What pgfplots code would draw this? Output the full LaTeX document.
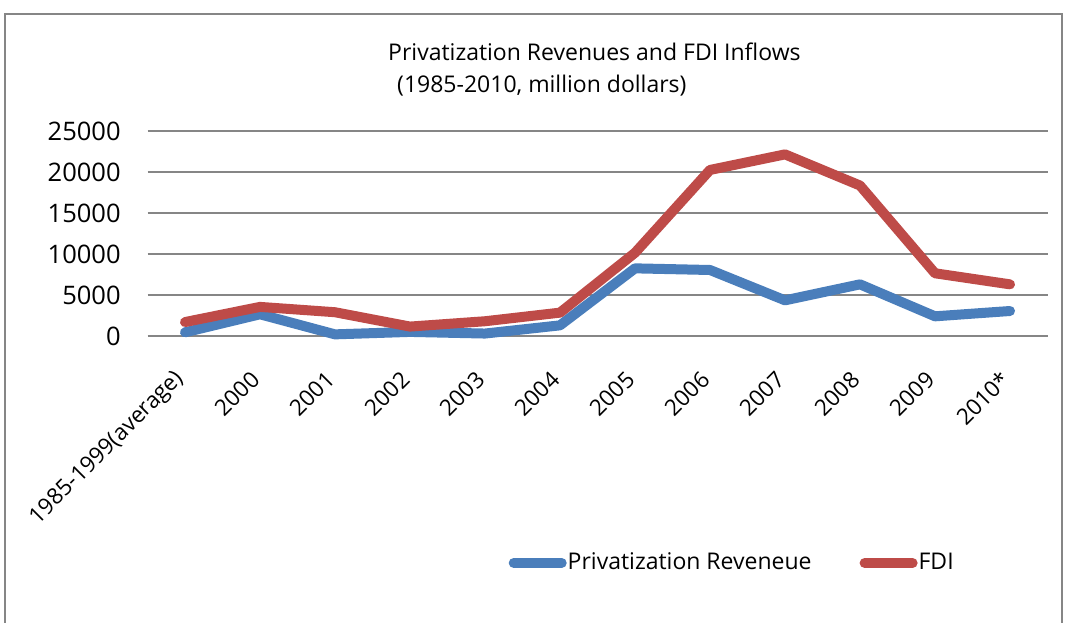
\documentclass[border=0pt]{standalone}
\usepackage{fontspec}
\setmainfont{Open Sans}
\usepackage{pgfplots}
\pgfplotsset{compat=1.18}
\definecolor{blueline}{RGB}{74,126,187}
\definecolor{redline}{RGB}{190,75,72}
\definecolor{gridgray}{RGB}{134,134,134}
\begin{document}
\fontsize{23bp}{27bp}\selectfont
\begin{tikzpicture}[x=1bp,y=1bp]
\useasboundingbox (0,0) rectangle (1067,-623);
\draw[gridgray, line width=1.5bp] (5,-640) -- (5,-14) -- (1062,-14) -- (1062,-640);
\node[anchor=base west, inner sep=0] at (388,-60.5) {Privatization Revenues and FDI Inflows};
\node[anchor=base west, inner sep=0] at (397,-93) {(1985-2010, million dollars)};
\begin{axis}[
  at={(147.5bp,-336bp)}, anchor=south west,
  scale only axis, width=900bp, height=205bp,
  xmin=-0.5, xmax=11.5, ymin=0, ymax=25000,
  ytick={0,5000,10000,15000,20000,25000},
  xtick={0,1,2,3,4,5,6,7,8,9,10,11},
  xticklabels={1985-1999(average),2000,2001,2002,2003,2004,2005,2006,2007,2008,2009,2010*},
  axis line style={draw=none},
  major tick length=0pt,
  ymajorgrids,
  grid style={gridgray, line width=1.5bp},
  scaled y ticks=false,
  /pgf/number format/1000 sep={},
  /pgf/number format/assume math mode=true,
  yticklabel style={anchor=east, xshift=-19bp, font=\fontsize{25.5bp}{29bp}\selectfont},
  xticklabel style={yshift=-34bp, xshift=1bp, rotate=45, anchor=east, font=\fontsize{22.5bp}{27bp}\selectfont},
  clip=false,
  legend columns=2,
  legend style={draw=none, fill=none, at={(0.3978,-1.107)}, anchor=west,
    font=\fontsize{23bp}{27bp}\selectfont,
    nodes={inner xsep=1bp, inner ysep=2bp},
    /tikz/every even column/.append style={column sep=47bp}},
  legend image code/.code={\draw[#1, line cap=round] (5bp,0bp) -- (53bp,0bp);},
]
\addplot[blueline, line width=10bp, line join=round, line cap=round] coordinates {
 (0,450) (1,2650) (2,200) (3,500) (4,300) (5,1300) (6,8250) (7,8050) (8,4350) (9,6300) (10,2400) (11,3050)};
\addlegendentry{Privatization Reveneue}
\addplot[redline, line width=10bp, line join=round, line cap=round] coordinates {
 (0,1700) (1,3550) (2,2900) (3,1150) (4,1800) (5,2850) (6,10150) (7,20250) (8,22150) (9,18350) (10,7650) (11,6300)};
\addlegendentry{FDI}
\end{axis}
\end{tikzpicture}
\end{document}
